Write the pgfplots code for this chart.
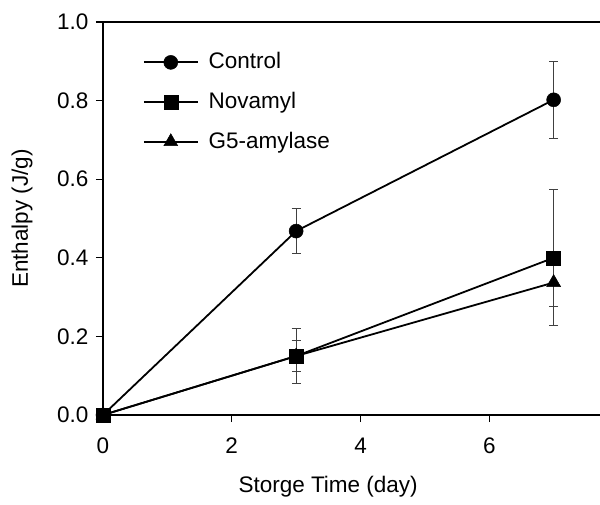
\documentclass[border=0pt]{standalone}
\usepackage{fontspec}
\setmainfont{Liberation Sans}
\usepackage{pgfplots}
\pgfplotsset{compat=1.18}

\begin{document}
\fontsize{22.5}{27}\selectfont
\begin{tikzpicture}
% frame of the page, in reference pixels (1px = 1pt)
\path[use as bounding box] (-103pt,-89pt) rectangle (497pt,415pt);
\begin{axis}[
    at={(0,0)}, anchor=south west,
    scale only axis,
    width=497pt, height=393pt,
    xmin=0, xmax=7.72,
    ymin=0, ymax=1,
    axis x line*=box,
    axis y line*=left,
    xtick={0,2,4,6},
    ytick={0,0.2,...,1.0},
    xtick pos=bottom,
    tick align=outside,
    major tick length=7pt,
    axis line style={line width=1.4pt},
    tick style={line width=1.2pt, black},
    /pgf/number format/assume math mode=true,
    yticklabel style={/pgf/number format/fixed, /pgf/number format/fixed zerofill,
        /pgf/number format/precision=1},
    xticklabel style={yshift=-8pt},
    xlabel={Storge Time (day)},
    ylabel={Enthalpy (J/g)},
    x label style={at={(axis description cs:0.453,-0.183)}, anchor=center},
    y label style={at={(axis description cs:-0.163,0.5)}, anchor=center},
    legend style={draw=none, fill=none, at={(axis cs:0.57,0.933)},
        anchor=north west, row sep=16pt, font=\fontsize{22.5}{27}\selectfont},
    legend cell align=left,
    legend image code/.code={%
        \draw[mark repeat=2, mark phase=2]
        plot coordinates {(0pt,0pt) (27pt,0pt) (54pt,0pt)};
        \path (62pt,0pt);},
    error bars/error bar style={line width=0.8pt, black!75},
    error bars/error mark options={rotate=90, mark size=4.5pt, line width=0.8pt, black!75},
]
\addplot[black, line width=1.8pt, mark=*, mark size=7pt,
    mark options={fill=black, line width=0.5pt},
    error bars/.cd, y dir=both, y explicit]
    coordinates {
    (0,0) +- (0,0)
    (3,0.468) +- (0,0.057)
    (7,0.802) +- (0,0.098)
};
\addlegendentry{Control}
\addplot[black, line width=1.8pt, mark=square*, mark size=7pt,
    mark options={fill=black, line width=0.5pt},
    error bars/.cd, y dir=both, y explicit]
    coordinates {
    (0,0) +- (0,0)
    (3,0.150) +- (0,0.070)
    (7,0.400) +- (0,0.173)
};
\addlegendentry{Novamyl}
\addplot[black, line width=1.8pt, mark=triangle*, mark size=8pt,
    mark options={fill=black, line width=0.5pt},
    error bars/.cd, y dir=both, y explicit]
    coordinates {
    (0,0) +- (0,0)
    (3,0.150) +- (0,0.040)
    (7,0.337) +- (0,0.060)
};
\addlegendentry{G5-amylase}
\end{axis}
\end{tikzpicture}
\end{document}
